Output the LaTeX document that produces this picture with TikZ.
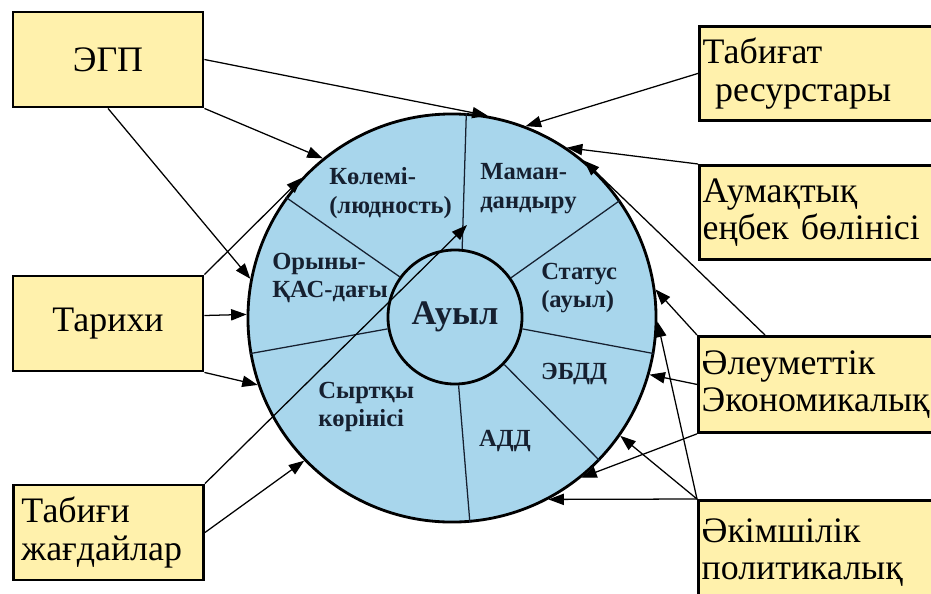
\documentclass[tikz,border=0pt]{standalone}
\usepackage{fontspec}
\setmainfont{Liberation Serif}
\usetikzlibrary{arrows.meta}
\usetikzlibrary{calc}
\definecolor{boxyellow}{RGB}{255,241,172}
\definecolor{ringblue}{RGB}{168,214,236}
\definecolor{labelink}{RGB}{22,32,48}
\tikzset{>={Triangle[length=11pt,width=8pt]}}
\tikzset{lbox/.style={draw, line width=2pt, fill=boxyellow, minimum width=4.75cm, minimum height=2.375cm, inner sep=0pt, font=\fontsize{25.5}{26.5}\selectfont}}
\tikzset{rbox/.style={draw, line width=2pt, fill=boxyellow, anchor=north west, text width=6.3cm, inner xsep=0.08cm, minimum height=2.35cm, align=left, font=\fontsize{25.5}{26.5}\selectfont}}
\tikzset{sect/.style={inner sep=0pt, align=left, text=labelink, font=\fontsize{17.5}{20.5}\selectfont\bfseries}}
\tikzset{link/.style={->, line width=0.9pt}}
\tikzset{spoke/.style={line width=0.9pt, draw=labelink}}

\begin{document}
\begin{tikzpicture}[x=0.025cm, y=-0.025cm]
\useasboundingbox (0,0) rectangle (931,593);
\clip (0,0) rectangle (931,593);

\node[circle, draw, line width=2pt, fill=ringblue, minimum size=10.2cm, inner sep=0pt] (ring) at (452,318) {};
\node[circle, draw, line width=2pt, fill=ringblue, minimum size=3.35cm, inner sep=0pt, text=labelink, font=\fontsize{24.5}{27}\selectfont\bfseries] (auyl) at (455,317) {Ауыл};

\foreach \i/\o in {84/86, 144/144, 190/190, 273/275, 316/316, 350/350, 35/35}
  \draw[spoke] (auyl.\i) -- (ring.\o);

\node[sect, anchor=west] (kolemi) at (329,193) {Көлемі-\\(людность)};
\node[sect, anchor=west] (maman) at (480,189) {Маман-\\дандыру};
\node[sect, anchor=west] (oryny) at (272,278) {Орыны-\\ҚАС-дағы};
\node[sect, anchor=west] (status) at (541,288) {Статус\\(ауыл)};
\node[sect] (ebdd) at (574,374) {ЭБДД};
\node[sect] (add) at (505,441) {АДД};
\node[sect, anchor=west] (syrtqy) at (318,407) {Сыртқы\\көрінісі};

\node[lbox] (egp) at (108,59.5) {ЭГП};
\node[lbox] (tarihi) at (108,323.5) {Тарихи};
\node[lbox, align=left, text width=4.35cm, inner xsep=0.2cm] (tabigi) at (108.5,532.5) {Табиғи\\жағдайлар};

\node[rbox] (resurs) at (698,25) {Табиғат\\\hspace*{0.35em}ресурстары};
\node[rbox] (aumaq) at (698,164) {Аумақтық\\еңбек бөлінісі};
\node[rbox, minimum height=2.4cm] (aleum) at (697,335) {Әлеуметтік\\Экономикалық};
\node[rbox, minimum height=2.6cm] (akim) at (697,499) {Әкімшілік\\политикалық};

\coordinate (tabtip) at (467,225);

\draw[link] (egp.east) -- (ring.80);
\draw[link] (egp.south east) -- (ring.129);
\draw[link] (egp.south) -- (ring.169);

\draw[link] (tarihi.north east) -- (ring.137);
\draw[link] ($(tarihi.east)+(0,-8)$) -- (ring.179);
\draw[link] (tarihi.south east) -- (ring.199);

\draw[link] (tabigi.north east) -- (tabtip);
\draw[link] (tabigi.east) -- (ring.224);

\draw[link] (resurs.west) -- (ring.69);
\draw[link] (aumaq.north west) -- (ring.56);

\draw[link] ($(aleum.north west)+(68,0)$) -- (ring.50);
\draw[link] (aleum.north west) -- (ring.8);
\draw[link] (aleum.west) -- (ring.344);
\draw[link] (aleum.south west) -- (ring.309);

\draw[link] (akim.north west) -- (ring.359);
\draw[link] (akim.north west) -- (ring.325);
\draw[link] (akim.north west) -- (ring.298);

\end{tikzpicture}
\end{document}
